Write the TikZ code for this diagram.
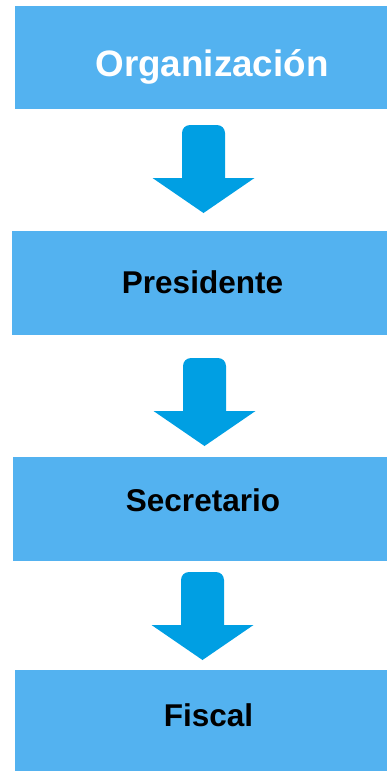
\documentclass[tikz,border=0pt]{standalone}
\usepackage{fontspec}
\setmainfont{Liberation Sans}
\definecolor{boxblue}{RGB}{83,178,240}
\definecolor{arrowblue}{RGB}{0,159,227}
\tikzset{
  boxfill/.style={fill=boxblue, draw=none},
  lbl/.style={font=\bfseries\fontsize{31.5}{36}\selectfont, text=black, anchor=base, inner sep=0pt},
  toplbl/.style={font=\bfseries\fontsize{36.8}{42}\selectfont, text=white, anchor=base, inner sep=0pt},
  pics/downarrow/.style={code={
    \fill[arrowblue] (-21.5,53) -- (-21.5,8) arc(180:270:8) -- (13.5,0) arc(270:360:8)
      -- (21.5,53) -- (51,53) -- (0,88) -- (-51,53) -- cycle;
  }}
}
\begin{document}
\begin{tikzpicture}[x=1pt,y=-1pt]
\useasboundingbox (0,0) rectangle (387,771);
% boxes
\fill[boxfill] (14.7,5.7) rectangle (387,109) coordinate (b1c);
\fill[boxfill] (12,231) rectangle (387,335);
\fill[boxfill] (13,457) rectangle (387,561);
\fill[boxfill] (15,670) rectangle (387,771);
% labels
\node[toplbl] (t1) at (212,76) {Organización};
\node[lbl] (t2) at (202.5,293) {Presidente};
\node[lbl] (t3) at (203,511.5) {Secretario};
\node[lbl] (t4) at (208.5,726) {Fiscal};
% arrows
\pic (a1) at (203.5,125) {downarrow};
\pic (a2) at (204.5,358) {downarrow};
\pic (a3) at (202.5,572) {downarrow};
\end{tikzpicture}
\end{document}
